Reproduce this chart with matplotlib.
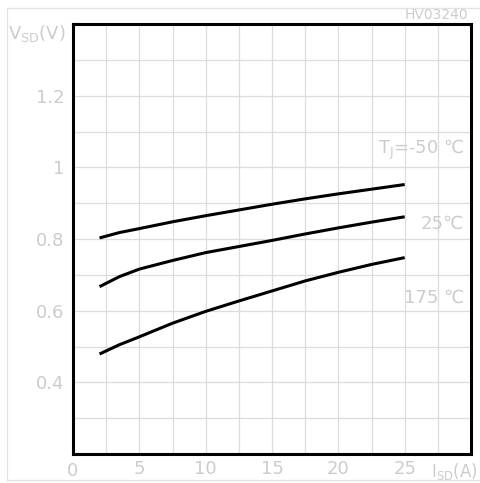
import matplotlib.pyplot as plt
from matplotlib.patches import Rectangle
from matplotlib.ticker import MultipleLocator

# source-drain current (A) and forward voltage (V) per junction temperature
isd = [2, 3.5, 5, 7.5, 10, 12.5, 15, 17.5, 20, 22.5, 25]
vsd_m50 = [0.803, 0.818, 0.829, 0.848, 0.865, 0.881, 0.897, 0.912, 0.926, 0.939, 0.952]
vsd_25 = [0.667, 0.695, 0.716, 0.740, 0.762, 0.779, 0.796, 0.814, 0.831, 0.847, 0.862]
vsd_175 = [0.479, 0.505, 0.527, 0.565, 0.598, 0.627, 0.655, 0.683, 0.707, 0.729, 0.748]

curve_labels = ['T$_{\\rm J}$=-50 ℃', '25℃', '175 ℃']
x_ticks = [5, 10, 15, 20, 25]
y_ticks = [0.4, 0.6, 0.8, 1.0, 1.2]
y_ticklabels = ['0.4', '0.6', '0.8', '1', '1.2']

txt = '#cccccc'
grid = '#dcdcdc'

fig = plt.figure(figsize=(4.81, 4.83), dpi=100)
ax = fig.add_axes([73 / 481, 1 - 454 / 483, 398 / 481, 430 / 483])

for v in (vsd_m50, vsd_25, vsd_175):
    ax.plot(isd, v, color='black', lw=2.2, solid_capstyle='butt',
            solid_joinstyle='round')

ax.set_xlim(0, 30)
ax.set_ylim(0.2, 1.4)
ax.xaxis.set_minor_locator(MultipleLocator(2.5))
ax.yaxis.set_minor_locator(MultipleLocator(0.1))
ax.grid(True, which='both', color=grid, lw=0.9)
ax.set_axisbelow(True)
ax.tick_params(which='both', length=0)
ax.set_xticks(x_ticks)
ax.set_xticklabels([str(t) for t in x_ticks])
ax.set_yticks(y_ticks)
ax.set_yticklabels(y_ticklabels)
ax.tick_params(axis='x', pad=4, labelsize=13, labelcolor=txt)
ax.tick_params(axis='y', pad=6, labelsize=13, labelcolor=txt)
for s in ax.spines.values():
    s.set_linewidth(2.2)

font = dict(color=txt, fontsize=13)
ax.text(0, 0.2 - 0.047, '0', ha='center', va='center', **font)

# curve labels at the right edge
ax.text(29.5, 1.05, curve_labels[0], ha='right', va='center', **font)
ax.text(29.5, 0.842, curve_labels[1], ha='right', va='center', **font)
ax.text(29.5, 0.637, curve_labels[2], ha='right', va='center', **font)

# axis titles
fig.text(8 / 481, 1 - 33 / 483, 'V$_{\\rm SD}$(V)', ha='left', va='center', **font)
fig.text(478 / 481, 1 - 471 / 483, 'I$_{\\rm SD}$(A)', ha='right', va='center',
         color=txt, fontsize=12)
fig.text(468 / 481, 1 - 15 / 483, 'HV03240', ha='right', va='center',
         color=txt, fontsize=10)

# light outer frame
fig.add_artist(Rectangle((7 / 481, 1 - 480 / 483), 490 / 481, 472 / 483,
                         transform=fig.transFigure, fill=False,
                         edgecolor='#e2e2e2', lw=0.9))

fig.savefig('out.png', dpi=100)
